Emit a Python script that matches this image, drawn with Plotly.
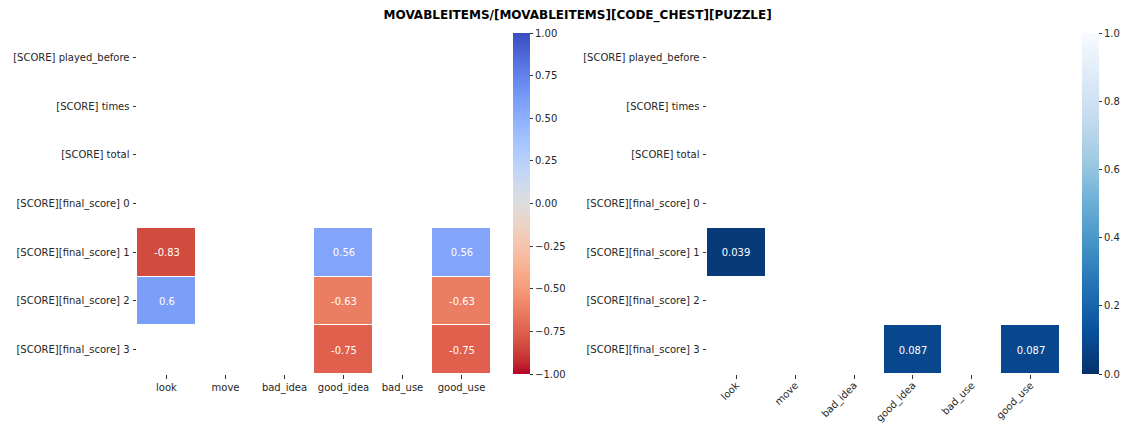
import plotly.graph_objects as go

title = "MOVABLEITEMS/[MOVABLEITEMS][CODE_CHEST][PUZZLE]"

rows = [
    "[SCORE] played_before",
    "[SCORE] times",
    "[SCORE] total",
    "[SCORE][final_score] 0",
    "[SCORE][final_score] 1",
    "[SCORE][final_score] 2",
    "[SCORE][final_score] 3",
]
cols = ["look", "move", "bad_idea", "good_idea", "bad_use", "good_use"]

N = None
# correlation coefficients (blank where not significant)
corr = [
    [N, N, N, N, N, N],
    [N, N, N, N, N, N],
    [N, N, N, N, N, N],
    [N, N, N, N, N, N],
    [-0.83, N, N, 0.56, N, 0.56],
    [0.6, N, N, -0.63, N, -0.63],
    [N, N, N, -0.75, N, -0.75],
]
# matching p-values
pvals = [
    [N, N, N, N, N, N],
    [N, N, N, N, N, N],
    [N, N, N, N, N, N],
    [N, N, N, N, N, N],
    [0.039, N, N, N, N, N],
    [N, N, N, N, N, N],
    [N, N, N, 0.087, N, 0.087],
]

corr_ticks = [1.0, 0.75, 0.5, 0.25, 0.0, -0.25, -0.5, -0.75, -1.0]
corr_ticktext = ["1.00", "0.75", "0.50", "0.25", "0.00", "\u22120.25", "\u22120.50", "\u22120.75", "\u22121.00"]
p_ticks = [0.0, 0.2, 0.4, 0.6, 0.8, 1.0]
p_ticktext = ["0.0", "0.2", "0.4", "0.6", "0.8", "1.0"]

# coolwarm (reversed: blue at +1, red at -1)
coolwarm = [
    (59, 76, 192), (68, 90, 204), (77, 104, 215), (87, 117, 225), (98, 130, 234),
    (108, 142, 241), (119, 154, 247), (130, 165, 251), (141, 176, 254), (152, 185, 255),
    (163, 194, 255), (174, 201, 253), (184, 208, 249), (194, 213, 244), (204, 217, 238),
    (213, 219, 230), (221, 221, 221), (229, 216, 209), (236, 211, 197), (241, 204, 184),
    (245, 196, 172), (247, 187, 159), (247, 177, 147), (247, 166, 134), (244, 154, 123),
    (241, 141, 111), (236, 127, 99), (229, 112, 89), (222, 96, 77), (213, 80, 66),
    (203, 62, 56), (192, 40, 47), (180, 4, 38),
]
n = len(coolwarm)
coolwarm_r = [[i / (n - 1), "rgb(%d,%d,%d)" % c] for i, c in enumerate(reversed(coolwarm))]

blues = ["#f7fbff", "#deebf7", "#c6dbef", "#9ecae1", "#6baed6", "#4292c6", "#2171b5", "#08519c", "#08306b"]
blues_r = [[i / (len(blues) - 1), c] for i, c in enumerate(reversed(blues))]


def fmt(v):
    return "" if v is None else "{:.2g}".format(v)


W, H = 1126, 425
y_dom = [(H - 374) / H, (H - 33) / H]
left_dom = [137 / W, 491 / W]
right_dom = [707 / W, 1060 / W]

font = dict(family="DejaVu Sans", size=10, color="#262626")
cell_font = dict(family="DejaVu Sans", size=10, color="white")

fig = go.Figure()

fig.add_trace(go.Heatmap(
    z=corr, x=cols, y=rows, zmin=-1, zmax=1, colorscale=coolwarm_r,
    text=[[fmt(v) for v in r] for r in corr], texttemplate="%{text}",
    textfont=cell_font,
    xgap=1, ygap=1, xaxis="x", yaxis="y", hoverongaps=False,
    colorbar=dict(
        x=513 / W, xanchor="left", xref="paper", y=y_dom[0], yanchor="bottom",
        yref="paper", len=y_dom[1] - y_dom[0], lenmode="fraction", thickness=17,
        outlinewidth=0, xpad=0, ypad=0,
        tickvals=corr_ticks, ticktext=corr_ticktext, ticks="outside", ticklen=3.5,
        tickcolor="#333333", tickfont=font,
    ),
))

fig.add_trace(go.Heatmap(
    z=pvals, x=cols, y=rows, zmin=0, zmax=1, colorscale=blues_r,
    text=[[fmt(v) for v in r] for r in pvals], texttemplate="%{text}",
    textfont=cell_font,
    xgap=1, ygap=1, xaxis="x2", yaxis="y2", hoverongaps=False,
    colorbar=dict(
        x=1082 / W, xanchor="left", xref="paper", y=y_dom[0], yanchor="bottom",
        yref="paper", len=y_dom[1] - y_dom[0], lenmode="fraction", thickness=17,
        outlinewidth=0, xpad=0, ypad=0,
        tickvals=p_ticks, ticktext=p_ticktext, ticks="outside", ticklen=3.5,
        tickcolor="#333333", tickfont=font,
    ),
))

axis_common = dict(showgrid=False, zeroline=False, showline=False, ticks="outside",
                   ticklen=3.5, tickcolor="#333333", tickfont=font, automargin=False,
                   ticklabeloverflow="allow")

fig.update_layout(
    width=W, height=H,
    margin=dict(l=0, r=0, t=0, b=0, autoexpand=False),
    paper_bgcolor="white", plot_bgcolor="white",
    font=font,
    title=dict(text="<b>" + title + "</b>", x=0.513, xanchor="center", y=1 - 15 / H,
               yanchor="middle", font=dict(family="DejaVu Sans", size=12, color="black")),
    xaxis=dict(domain=left_dom, anchor="y", tickangle=0, ticklabelstandoff=0, **axis_common),
    yaxis=dict(domain=y_dom, anchor="x", autorange="reversed", ticklabelstandoff=1, **axis_common),
    xaxis2=dict(domain=right_dom, anchor="y2", tickangle=-45, ticklabelstandoff=-3, **axis_common),
    yaxis2=dict(domain=y_dom, anchor="x2", autorange="reversed", ticklabelstandoff=1, **axis_common),
)

fig.write_html("out.html")
